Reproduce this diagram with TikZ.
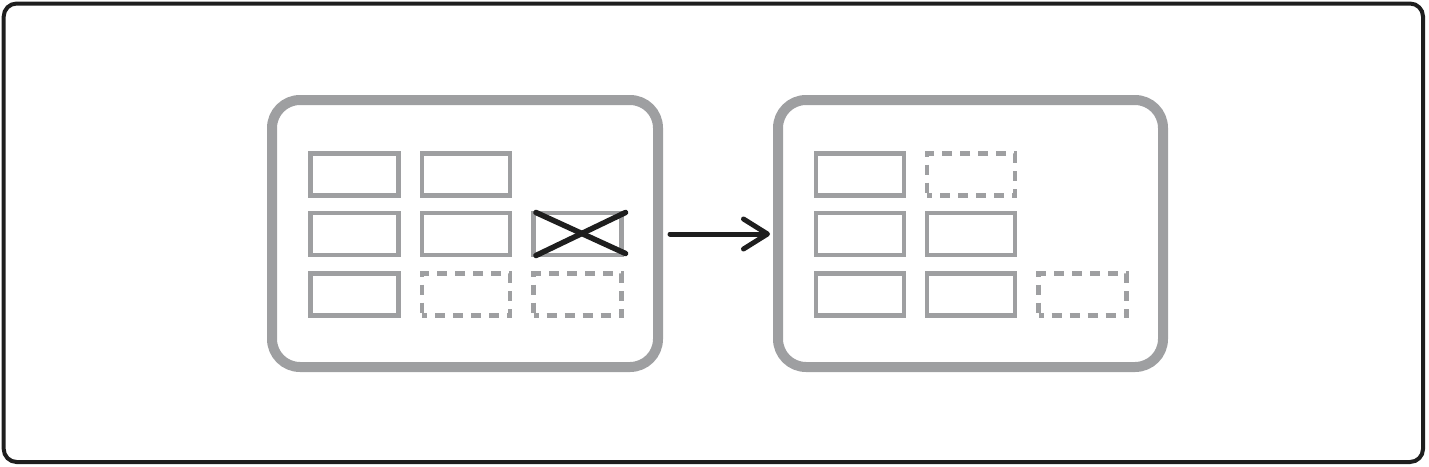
\documentclass[tikz,border=0pt]{standalone}
\usetikzlibrary{arrows.meta}
\definecolor{panelgray}{HTML}{9E9FA1}
\definecolor{framedark}{HTML}{1E1E1E}
\tikzset{
  frame/.style={draw=framedark, line width=4pt, rounded corners=13pt},
  panel/.style={draw=panelgray, line width=10pt, rounded corners=28pt},
  slot/.style={draw=panelgray, line width=4.5pt, minimum width=88pt, minimum height=42pt, inner sep=0pt, outer sep=0pt},
  emptyslot/.style={slot, dash pattern=on 10pt off 8pt, dash phase=5pt},
  crossline/.style={draw=framedark, line width=5.5pt, line cap=round},
  flow/.style={draw=framedark, line width=5pt, line cap=round, -{Straight Barb[length=24pt, width=30pt, line cap=round, line join=round]}}
}
\begin{document}
\begin{tikzpicture}[x=1pt,y=-1pt]
\useasboundingbox (0,0) rectangle (1429,466);
\path[frame] (3.7,3.5) rectangle (1423,462);
% left panel
\path[panel] (272,100) rectangle (658,367);
\node[slot] (l11) at (354.5,174.5) {};
\node[slot] (l12) at (466,174.5) {};
\node[slot] (l21) at (354.5,234) {};
\node[slot] (l22) at (466,234) {};
\node[slot] (l23) at (577.5,234) {};
\node[slot] (l31) at (354.5,294.5) {};
\node[emptyslot] (l32) at (466,294.5) {};
\node[emptyslot] (l33) at (577.5,294.5) {};
\coordinate (xa) at (536,255.5);
\coordinate (xb) at (625.5,212.5);
\coordinate (xc) at (536,212.5);
\coordinate (xd) at (625.5,253.5);
\draw[crossline] (xa) -- (xb);
\draw[crossline] (xc) -- (xd);
% right panel
\path[panel] (778,100) rectangle (1163,367);
\node[slot] (r11) at (860,174.5) {};
\node[emptyslot] (r12) at (971,174.5) {};
\node[slot] (r21) at (860,234) {};
\node[slot] (r22) at (971,234) {};
\node[slot] (r31) at (860,294.5) {};
\node[slot] (r32) at (971,294.5) {};
\node[emptyslot] (r33) at (1082.5,294.5) {};
% arrow
\coordinate (as) at (670,234);
\coordinate (ae) at (770,234);
\draw[flow] (as) -- (ae);
\end{tikzpicture}
\end{document}
